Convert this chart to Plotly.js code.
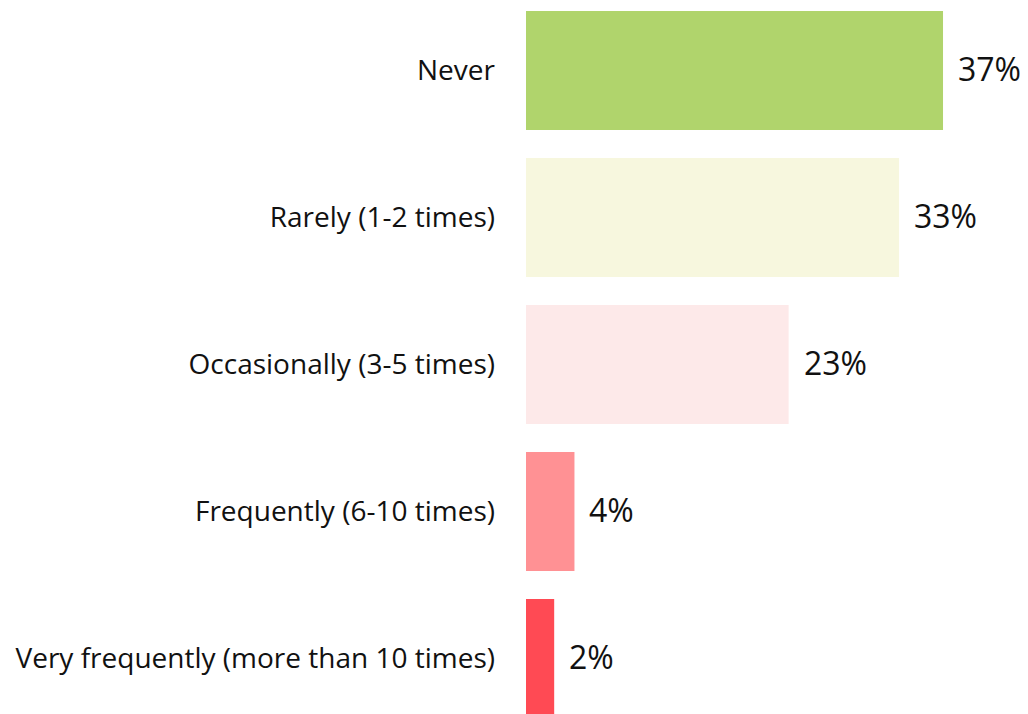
<!DOCTYPE html>
<html>
<head>
<meta charset="utf-8">
<script src="https://cdn.plot.ly/plotly-3.0.1.min.js"></script>
<style>html,body{margin:0;padding:0;background:#fff;}#chart{width:1028px;height:714px;}</style>
</head>
<body>
<div id="chart"></div>
<script>
const categories = ["Never", "Rarely (1-2 times)", "Occasionally (3-5 times)", "Frequently (6-10 times)", "Very frequently (more than 10 times)"];
const values = [37.0, 33.1, 23.3, 4.3, 2.5];
const valueLabels = ["37%", "33%", "23%", "4%", "2%"];
const colors = ["#b0d46c", "#f7f7de", "#fde9e9", "#ff9194", "#ff4a54"];

const TICKFONT = "'Open Sans', Lato, sans-serif";
const VALFONT = "'Open Sans', Lato, sans-serif";

const trace = {
  type: "bar",
  orientation: "h",
  y: categories,
  x: values,
  marker: { color: colors, line: { width: 0 } },
  width: 0.81,
  hoverinfo: "none"
};

const annotations = categories.map((c, i) => ({
  x: values[i],
  y: c,
  xref: "x",
  yref: "y",
  text: valueLabels[i],
  showarrow: false,
  xanchor: "left",
  yanchor: "middle",
  xshift: 13,
  yshift: 2,
  font: { family: VALFONT, size: 32, color: "#111" }
}));

const layout = {
  width: 1028,
  height: 714,
  margin: { l: 526, r: 0, t: 0, b: 0, pad: 0 },
  paper_bgcolor: "#fff",
  plot_bgcolor: "#fff",
  showlegend: false,
  xaxis: {
    range: [0, 44.54],
    visible: false,
    showgrid: false,
    zeroline: false
  },
  yaxis: {
    type: "category",
    range: [4.378, -0.48],
    showgrid: false,
    zeroline: false,
    showline: false,
    ticks: "",
    ticklabelstandoff: 30,
    tickfont: { family: TICKFONT, size: 28, color: "#111" }
  },
  annotations: annotations
};

Plotly.newPlot("chart", [trace], layout, { displayModeBar: false, staticPlot: true });
</script>
</body>
</html>
